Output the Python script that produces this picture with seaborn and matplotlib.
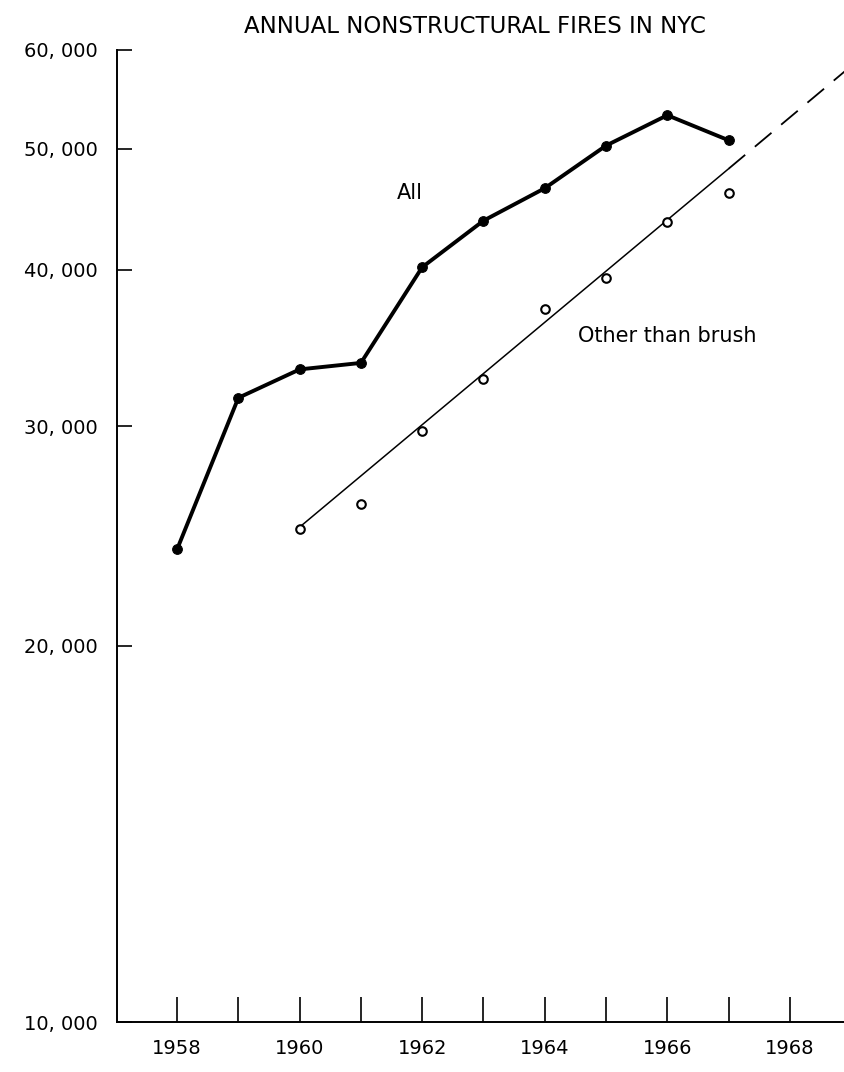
import matplotlib
matplotlib.use("Agg")
import matplotlib.pyplot as plt
import seaborn as sns
import pandas as pd
from matplotlib.ticker import FixedLocator, FixedFormatter, NullLocator

# Annual nonstructural fires in New York City
years_all = [1958, 1959, 1960, 1961, 1962, 1963, 1964, 1965, 1966, 1967]
fires_all = [23900, 31600, 33300, 33700, 40200, 43800, 46500, 50300, 53200, 50800]

years_other = [1960, 1961, 1962, 1963, 1964, 1965, 1966, 1967]
fires_other = [24800, 26000, 29700, 32700, 37200, 39400, 43700, 46100]

# Fitted trend for fires other than brush, and its projection
trend_years = [1960, 1967]
trend_values = [24900, 48200]
proj_years = [1967, 1968.9]
proj_values = [48200, 57700]

y_ticks = [10000, 20000, 30000, 40000, 50000, 60000]
y_labels = ["10, 000", "20, 000", "30, 000", "40, 000", "50, 000", "60, 000"]
x_ticks = list(range(1958, 1969))
x_labels = ["1958", "", "1960", "", "1962", "", "1964", "", "1966", "", "1968"]

sns.set_style("white")
plt.rcParams["font.family"] = ["DejaVu Sans"]
plt.rcParams["text.color"] = "black"

fig = plt.figure(figsize=(8.45, 10.72), dpi=100)
ax = fig.add_axes([0.1385, 0.0466, 0.8615, 0.9068])

df_all = pd.DataFrame({"year": years_all, "fires": fires_all})
df_other = pd.DataFrame({"year": years_other, "fires": fires_other})
df_trend = pd.DataFrame({"year": trend_years, "fires": trend_values})
df_proj = pd.DataFrame({"year": proj_years, "fires": proj_values})

sns.lineplot(data=df_all, x="year", y="fires", ax=ax, color="black",
             linewidth=2.8, marker="o", markersize=7, markeredgecolor="black",
             markerfacecolor="black", zorder=3)
sns.lineplot(data=df_trend, x="year", y="fires", ax=ax, color="black",
             linewidth=1.1, zorder=2)
ax.plot(df_proj["year"], df_proj["fires"], color="black", linewidth=1.3,
        dashes=(12, 7), zorder=2)
sns.scatterplot(data=df_other, x="year", y="fires", ax=ax, s=38,
                facecolor="white", edgecolor="black", linewidth=1.5, zorder=4)

ax.set_yscale("log")
ax.set_ylim(10000, 60000)
ax.set_xlim(1957.02, 1968.9)

ax.yaxis.set_major_locator(FixedLocator(y_ticks))
ax.yaxis.set_major_formatter(FixedFormatter(y_labels))
ax.yaxis.set_minor_locator(NullLocator())
ax.xaxis.set_major_locator(FixedLocator(x_ticks))
ax.xaxis.set_major_formatter(FixedFormatter(x_labels))
ax.xaxis.set_minor_locator(NullLocator())

ax.tick_params(axis="y", which="major", left=True, direction="in", length=11,
               width=1.2, pad=14, labelsize=14, colors="black")
ax.tick_params(axis="x", which="major", bottom=True, direction="in", length=18,
               width=1.2, pad=12, labelsize=14, colors="black")

for side in ["top", "right"]:
    ax.spines[side].set_visible(False)
for side in ["left", "bottom"]:
    ax.spines[side].set_color("black")
    ax.spines[side].set_linewidth(1.4)

ax.set_xlabel("")
ax.set_ylabel("")

ax.text(1961.8, 46100, "All", fontsize=15, ha="center", va="center",
        color="black")
ax.text(1964.55, 35400, "Other than brush", fontsize=15, ha="left",
        va="center", color="black")

fig.text(0.562, 0.975, "ANNUAL NONSTRUCTURAL FIRES IN NYC", fontsize=16.5,
         ha="center", va="center", color="black")

fig.savefig("out.png", dpi=100)
